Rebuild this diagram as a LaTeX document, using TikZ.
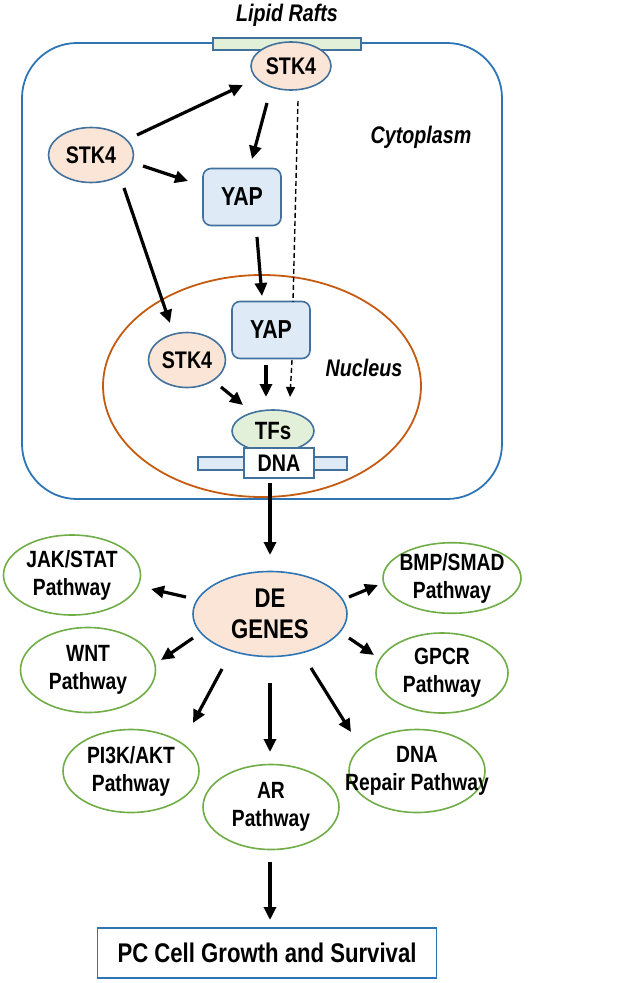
\documentclass[tikz,border=0pt]{standalone}
\usepackage{fontspec}
\setmainfont{Liberation Sans}[FakeStretch=0.82]
\usetikzlibrary{arrows.meta,shapes.geometric}
\definecolor{cellblue}{HTML}{2E75B6}
\definecolor{edgeblue}{HTML}{41719C}
\definecolor{peach}{HTML}{FBE5D6}
\definecolor{paleblue}{HTML}{DEEBF7}
\definecolor{palegreen}{HTML}{E2F0D9}
\definecolor{nucorange}{HTML}{C55A11}
\definecolor{pathgreen}{HTML}{70AD47}
\newcommand{\nw}[1]{\makebox[0pt]{#1}}
\newcommand{\pway}[2]{\nw{#1}\\\nw{#2}}

\begin{document}
\begin{tikzpicture}[x=1pt,y=-1pt]
\tikzset{ovnoeud/.style={ellipse, draw=edgeblue, line width=1.6pt, fill=peach, inner sep=0pt, font=\bfseries\fontsize{24}{28}\selectfont},
boxnoeud/.style={rectangle, rounded corners=8pt, draw=edgeblue, line width=1.6pt, fill=paleblue, inner sep=0pt, minimum width=78pt, minimum height=57pt, font=\bfseries\fontsize{26}{30}\selectfont},
pathnoeud/.style={ellipse, draw=pathgreen, line width=1.6pt, fill=white, inner sep=0pt, minimum width=136pt, minimum height=82pt, align=center, font=\bfseries\fontsize{23.5}{28}\selectfont},
etiq/.style={font=\bfseries\itshape\fontsize{24}{28}\selectfont},
fleche/.style={-{Triangle[length=13pt,width=12pt]}, line width=3.2pt},
tiret/.style={dashed, dash pattern=on 5pt off 3pt, line width=1.4pt}}
\useasboundingbox (0,0) rectangle (625,983);
\draw[cellblue, line width=1.8pt, rounded corners=55pt] (22,43) rectangle (502,499);
\draw[edgeblue, fill=palegreen, line width=1.4pt] (213,38) rectangle (361,50);
\node[etiq] (LR) at (287,15) {Lipid Rafts};
\node[etiq] (CY) at (421,137) {Cytoplasm};
\draw[nucorange, line width=1.8pt] (262,386) ellipse [x radius=159pt, y radius=111pt];
\node[etiq] (NU) at (364,368) {Nucleus};
\node[ovnoeud, minimum width=80pt, minimum height=48pt] (STK1) at (291,66) {STK4};
\node[ovnoeud, minimum width=85pt, minimum height=55pt] (STK2) at (91,155) {STK4};
\node[ovnoeud, minimum width=77pt, minimum height=55pt] (STK3) at (187,360) {STK4};
\node[boxnoeud] (YAP1) at (242,197) {YAP};
\node[boxnoeud] (YAP2) at (271,330) {YAP};
\node[ovnoeud, fill=palegreen, minimum width=82pt, minimum height=42pt, font=\bfseries\fontsize{25}{29}\selectfont] (TF) at (273,431) {TFs};
\draw[edgeblue, fill=paleblue, line width=1.4pt] (198,457) rectangle (347,470);
\node[rectangle, draw=edgeblue, fill=white, line width=1.6pt, minimum width=70pt, minimum height=30pt, inner sep=0pt, font=\bfseries\fontsize{24}{28}\selectfont] (DNA) at (279,463) {DNA};
\node[ovnoeud, draw=cellblue, minimum width=154pt, minimum height=85pt, align=center, font=\bfseries\fontsize{27}{31}\selectfont] (DEG) at (270,614) {DE\\GENES};
\node[pathnoeud, minimum width=137pt, minimum height=80pt] (JAK) at (72,575) {\pway{JAK/STAT}{Pathway}};
\node[pathnoeud, minimum width=138pt, minimum height=70pt] (BMP) at (452,578) {\pway{BMP/SMAD}{Pathway}};
\node[pathnoeud, minimum width=135pt, minimum height=85pt] (WNT) at (88,670) {\pway{WNT}{Pathway}};
\node[pathnoeud, minimum width=132pt, minimum height=80pt] (GPCR) at (442,673) {\pway{GPCR}{Pathway}};
\node[pathnoeud, minimum width=136pt, minimum height=83pt] (PIK) at (131,771) {\pway{PI3K/AKT}{Pathway}};
\node[pathnoeud, minimum width=136pt, minimum height=85pt] (AR) at (271,807) {\pway{AR}{Pathway}};
\node[pathnoeud, minimum width=136pt, minimum height=83pt] (REP) at (417,771) {\pway{DNA}{Repair Pathway}};
\node[rectangle, draw=cellblue, line width=1.8pt, minimum width=339pt, minimum height=50pt, font=\bfseries\fontsize{27}{31}\selectfont] (PC) at (267,953) {PC Cell Growth and Survival};
\draw[fleche] ([shift={(46,-20)}]STK2.center) -- ([shift={(-48,19)}]STK1.center);
\draw[fleche] ([shift={(52,11)}]STK2.center) -- ([shift={(-54,-16)}]YAP1.center);
\draw[fleche] ([shift={(33,33)}]STK2.center) -- ([shift={(-17,-37)}]STK3.center);
\draw[fleche] ([shift={(-24,37)}]STK1.center) -- ([shift={(10,-38)}]YAP1.center);
\draw[tiret] ([shift={(7,35)}]STK1.center) -- ([shift={(22,-28)}]YAP2.center);
\draw[fleche] ([shift={(15,40)}]YAP1.center) -- ([shift={(-9,-34)}]YAP2.center);
\draw[fleche] ([shift={(-5,35)}]YAP2.center) -- ([shift={(-7,-34)}]TF.center);
\draw[tiret, -{Triangle[length=10pt,width=9pt]}] ([shift={(21,30)}]YAP2.center) -- ([shift={(17,-34)}]TF.center);
\draw[fleche] ([shift={(34,27)}]STK3.center) -- ([shift={(-30,-26)}]TF.center);
\draw[fleche] ([shift={(-9,20)}]DNA.center) -- ([shift={(0,-59)}]DEG.center);
\draw[fleche] ([shift={(-84,-17)}]DEG.center) -- ([shift={(79,14)}]JAK.center);
\draw[fleche] ([shift={(79,-17)}]DEG.center) -- ([shift={(-74,7)}]BMP.center);
\draw[fleche] ([shift={(-77,24)}]DEG.center) -- ([shift={(73,-10)}]WNT.center);
\draw[fleche] ([shift={(79,24)}]DEG.center) -- ([shift={(-68,-18)}]GPCR.center);
\draw[fleche] ([shift={(-48,55)}]DEG.center) -- ([shift={(62,-48)}]PIK.center);
\draw[fleche] ([shift={(0,69)}]DEG.center) -- ([shift={(-1,-55)}]AR.center);
\draw[fleche] ([shift={(41,54)}]DEG.center) -- ([shift={(-66,-39)}]REP.center);
\draw[fleche] ([shift={(-1,55)}]AR.center) -- ([shift={(3,-33)}]PC.center);
\end{tikzpicture}
\end{document}
